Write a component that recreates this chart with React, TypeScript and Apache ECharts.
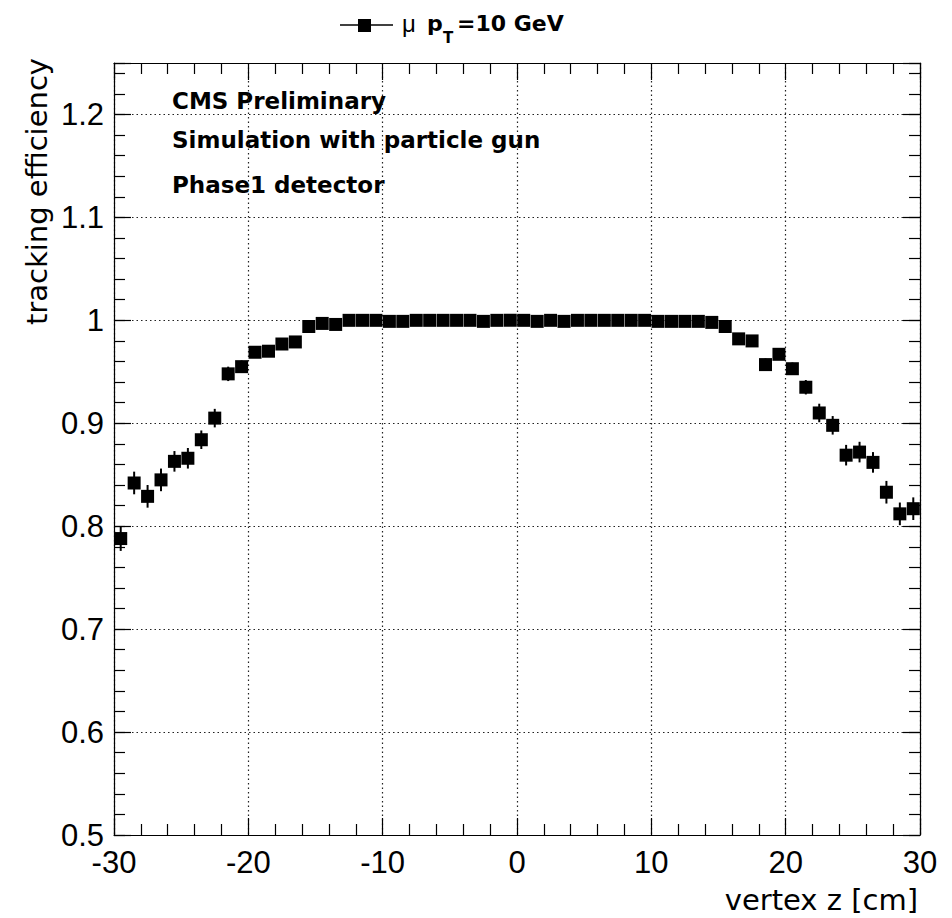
import React, { useEffect, useRef } from "react";
import * as echarts from "echarts";

// bin centres of vertex z [cm]
const zCenters = [
  -29.5, -28.5, -27.5, -26.5, -25.5, -24.5, -23.5, -22.5, -21.5, -20.5,
  -19.5, -18.5, -17.5, -16.5, -15.5, -14.5, -13.5, -12.5, -11.5, -10.5,
  -9.5, -8.5, -7.5, -6.5, -5.5, -4.5, -3.5, -2.5, -1.5, -0.5,
  0.5, 1.5, 2.5, 3.5, 4.5, 5.5, 6.5, 7.5, 8.5, 9.5,
  10.5, 11.5, 12.5, 13.5, 14.5, 15.5, 16.5, 17.5, 18.5, 19.5,
  20.5, 21.5, 22.5, 23.5, 24.5, 25.5, 26.5, 27.5, 28.5, 29.5,
];

// tracking efficiency per bin
const efficiency = [
  0.788, 0.842, 0.829, 0.845, 0.863, 0.866, 0.884, 0.905, 0.948, 0.955,
  0.969, 0.970, 0.977, 0.979, 0.994, 0.997, 0.996, 1.0, 1.0, 1.0,
  0.999, 0.999, 1.0, 1.0, 1.0, 1.0, 1.0, 0.999, 1.0, 1.0,
  1.0, 0.999, 1.0, 0.999, 1.0, 1.0, 1.0, 1.0, 1.0, 1.0,
  0.999, 0.999, 0.999, 0.999, 0.998, 0.994, 0.982, 0.980, 0.957, 0.967,
  0.953, 0.935, 0.910, 0.898, 0.869, 0.872, 0.862, 0.833, 0.812, 0.817,
];

// statistical uncertainty per bin
const errors = [
  0.012, 0.011, 0.011, 0.011, 0.010, 0.010, 0.009, 0.009, 0.007, 0.006,
  0.005, 0.005, 0.004, 0.004, 0.003, 0.002, 0.002, 0.001, 0.001, 0.001,
  0.001, 0.001, 0.001, 0.001, 0.001, 0.001, 0.001, 0.001, 0.001, 0.001,
  0.001, 0.001, 0.001, 0.001, 0.001, 0.001, 0.001, 0.001, 0.001, 0.001,
  0.001, 0.001, 0.001, 0.001, 0.002, 0.003, 0.004, 0.004, 0.006, 0.005,
  0.006, 0.007, 0.009, 0.009, 0.010, 0.010, 0.010, 0.011, 0.011, 0.011,
];

const infoLines = ["CMS Preliminary", "Simulation with particle gun", "Phase1 detector"];
const infoY = [101, 140, 185];

const TICK_FONT = "'Liberation Sans', Arial, sans-serif";
const TITLE_FONT = "'DejaVu Sans', sans-serif";

export default function App() {
  const ref = useRef<HTMLDivElement>(null);

  useEffect(() => {
    if (!ref.current) return;
    const chart = echarts.init(ref.current, undefined, { renderer: "svg" });

    const data = zCenters.map((z, i) => [z, efficiency[i], errors[i]]);

    const axisLine = { show: true, onZero: false, lineStyle: { color: "#000", width: 1.2 } };
    const split = { show: true, lineStyle: { color: "#222", width: 1.2, type: [1.5, 3] as any } };

    const yMajor = (position: "left" | "right", labels: boolean) => ({
      type: "value",
      position,
      min: 0.5,
      max: 1.25,
      interval: 0.1,
      axisLine,
      axisTick: { show: true, inside: true, length: 17, lineStyle: { color: "#000", width: 1.2 } },
      axisLabel: {
        show: labels,
        fontSize: 31,
        fontFamily: TICK_FONT,
        color: "#000",
        margin: 10,
        formatter: (v: number) => {
          const k = Math.round(v * 10);
          if (Math.abs(v * 10 - k) > 1e-6 || v > 1.21) return "";
          return String(k / 10);
        },
      },
      splitLine: labels ? split : { show: false },
    });

    const yMinor = (position: "left" | "right") => ({
      type: "value",
      position,
      min: 0.5,
      max: 1.25,
      interval: 0.02,
      axisLine: { show: false, onZero: false },
      axisTick: { show: true, inside: true, length: 11, lineStyle: { color: "#000", width: 1.2 } },
      axisLabel: { show: false },
      splitLine: { show: false },
    });

    const xAx = (position: "bottom" | "top", labels: boolean) => ({
      type: "value",
      position,
      min: -30,
      max: 30,
      interval: 10,
      axisLine,
      axisTick: { show: true, inside: true, length: 17, lineStyle: { color: "#000", width: 1.2 } },
      minorTick: { show: true, splitNumber: 5, length: 11, lineStyle: { color: "#000", width: 1.2 } },
      axisLabel: {
        show: labels,
        fontSize: 31,
        fontFamily: TICK_FONT,
        color: "#000",
        margin: 12,
      },
      splitLine: labels ? split : { show: false },
    });

    const graphics: any[] = [
      // legend
      { type: "line", shape: { x1: 340, y1: 25, x2: 393, y2: 25 }, style: { stroke: "#000", lineWidth: 1.5 } },
      { type: "rect", shape: { x: 358, y: 19, width: 13, height: 13 }, style: { fill: "#000" } },
      { type: "text", x: 402, y: 23, style: { text: "μ", font: `24px ${TICK_FONT}`, fill: "#000", verticalAlign: "middle" } },
      { type: "text", x: 427, y: 23, style: { text: "p", font: `bold 22px ${TITLE_FONT}`, fill: "#000", verticalAlign: "middle" } },
      { type: "text", x: 443, y: 38, style: { text: "T", font: `bold 15px ${TITLE_FONT}`, fill: "#000", verticalAlign: "middle" } },
      { type: "text", x: 457, y: 23, style: { text: "=10 GeV", font: `bold 22px ${TITLE_FONT}`, fill: "#000", verticalAlign: "middle" } },
      // axis titles
      {
        type: "text", x: 37, y: 58, rotation: Math.PI / 2,
        style: { text: "tracking efficiency", font: `29px ${TITLE_FONT}`, fill: "#000", align: "right", verticalAlign: "middle" },
      },
      {
        type: "text", x: 918, y: 900,
        style: { text: "vertex z [cm]", font: `29px ${TITLE_FONT}`, fill: "#000", align: "right", verticalAlign: "middle" },
      },
      ...infoLines.map((t, i) => ({
        type: "text", x: 172, y: infoY[i],
        style: { text: t, font: `bold 23px ${TITLE_FONT}`, fill: "#000", verticalAlign: "middle" },
      })),
    ];

    chart.setOption({
      animation: false,
      backgroundColor: "#fff",
      grid: { left: 114, right: 32, top: 63, bottom: 83, containLabel: false },
      xAxis: [xAx("bottom", true), xAx("top", false)],
      yAxis: [yMajor("left", true), yMinor("left"), yMajor("right", false), yMinor("right")],
      graphic: graphics,
      series: [
        {
          name: "μ pT=10 GeV",
          type: "custom",
          xAxisIndex: 0,
          yAxisIndex: 0,
          data,
          encode: { x: 0, y: 1 },
          renderItem: (params: any, api: any) => {
            const x = api.value(0);
            const y = api.value(1);
            const e = api.value(2);
            const c = api.coord([x, y]);
            const hi = api.coord([x, y + e]);
            const lo = api.coord([x, y - e]);
            const s = 13;
            return {
              type: "group",
              children: [
                {
                  type: "line",
                  shape: { x1: c[0], y1: hi[1], x2: c[0], y2: lo[1] },
                  style: { stroke: "#000", lineWidth: 2 },
                },
                {
                  type: "rect",
                  shape: { x: c[0] - s / 2, y: c[1] - s / 2, width: s, height: s },
                  style: { fill: "#000" },
                },
              ],
            };
          },
        },
      ],
    });

    return () => chart.dispose();
  }, []);

  return (
    <div
      ref={ref}
      style={{ position: "absolute", left: 0, top: 0, width: 952, height: 918, background: "#fff" }}
    />
  );
}
